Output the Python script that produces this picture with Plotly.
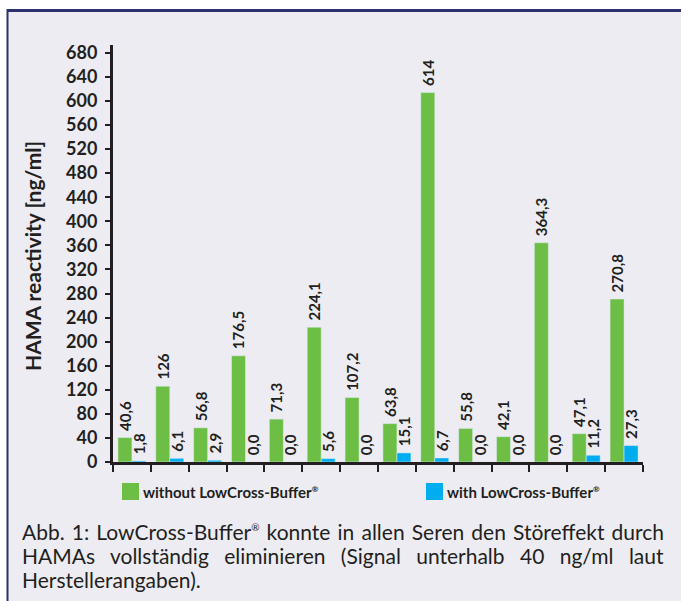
import plotly.graph_objects as go

# ---- data ----
groups = [f"S{i}" for i in range(1, 15)]
without_buffer = [40.6, 126, 56.8, 176.5, 71.3, 224.1, 107.2, 63.8, 614, 55.8, 42.1, 364.3, 47.1, 270.8]
with_buffer = [1.8, 6.1, 2.9, 0.0, 0.0, 5.6, 0.0, 15.1, 6.7, 0.0, 0.0, 0.0, 11.2, 27.3]
y_ticks = list(range(0, 681, 40))
REG = "<sup><span style='font-size:8px'>®</span></sup>"
series_names = ["without LowCross-Buffer" + REG, "with LowCross-Buffer" + REG]
y_title = "HAMA reactivity [ng/ml]"
caption_lines = [
    "Abb. 1: LowCross-Buffer<sup><span style='font-size:10px'>®</span></sup> konnte in allen Seren den Störeffekt durch",
    "HAMAs vollständig eliminieren (Signal unterhalb 40 ng/ml laut",
    "Herstellerangaben).",
]


def fmt(v):
    s = str(v) if isinstance(v, int) else f"{v:.1f}".replace(".", ",")
    return "\u00a0" + s


# ---- geometry (pixels) ----
W_PAGE, H_PAGE = 681, 601
L, R, T, B = 113, 38, 45, 139
PW = W_PAGE - L - R
PH = H_PAGE - T - B


def xp(px):
    return (px - L) / PW


def yp(py):
    return (H_PAGE - B - py) / PH


GREEN = "#6cbf44"
BLUE = "#00adef"
INK = "#231f20"
BG = "#ececf2"
NAVY = "#2d3170"
FONT = "Lato, 'Open Sans', sans-serif"

fig = go.Figure()
fig.add_trace(go.Bar(
    x=groups, y=without_buffer, name=series_names[0], marker_color=GREEN,
    text=[fmt(v) for v in without_buffer], textposition="outside", textangle=-90,
    textfont=dict(family=FONT, size=15, color=INK, weight="bold"),
    constraintext="none", cliponaxis=False, showlegend=False,
))
fig.add_trace(go.Bar(
    x=groups, y=with_buffer, name=series_names[1], marker_color=BLUE,
    text=[fmt(v) for v in with_buffer], textposition="outside", textangle=-90,
    textfont=dict(family=FONT, size=15, color=INK, weight="bold"),
    constraintext="none", cliponaxis=False, showlegend=False,
))

shapes = [
    dict(type="rect", xref="paper", yref="paper", x0=xp(7), x1=xp(W_PAGE + 5), y0=yp(10), y1=yp(H_PAGE + 5),
         fillcolor=BG, line_width=0, layer="below"),
    dict(type="line", xref="paper", yref="paper", x0=xp(7), x1=xp(W_PAGE + 5), y0=yp(10.5), y1=yp(10.5),
         line=dict(color=NAVY, width=3), layer="below"),
    dict(type="line", xref="paper", yref="paper", x0=xp(7.5), x1=xp(7.5), y0=yp(9), y1=yp(H_PAGE + 5),
         line=dict(color=NAVY, width=2), layer="below"),
    dict(type="rect", xref="paper", yref="paper", x0=xp(122), x1=xp(139), y0=yp(483), y1=yp(500),
         fillcolor=GREEN, line_width=0),
    dict(type="rect", xref="paper", yref="paper", x0=xp(426), x1=xp(443), y0=yp(483), y1=yp(500),
         fillcolor=BLUE, line_width=0),
]

annotations = [
    dict(text=y_title, xref="paper", yref="paper", x=xp(33), y=yp(256), textangle=-90,
         showarrow=False, xanchor="center", yanchor="middle",
         font=dict(family=FONT, size=21, color=INK, weight="bold")),
    dict(text=series_names[0], xref="paper", yref="paper", x=xp(141), y=yp(492),
         showarrow=False, xanchor="left", yanchor="middle",
         font=dict(family=FONT, size=15, color=INK, weight="bold")),
    dict(text=series_names[1], xref="paper", yref="paper", x=xp(445), y=yp(492),
         showarrow=False, xanchor="left", yanchor="middle",
         font=dict(family=FONT, size=15, color=INK, weight="bold")),
]

cap_font = dict(family=FONT, size=21, color=INK)
for line, ypix in zip(caption_lines, [531, 555, 579]):
    annotations.append(dict(text=line, xref="paper", yref="paper", x=xp(21), y=yp(ypix),
                            showarrow=False, xanchor="left", yanchor="middle", align="left",
                            font=cap_font, borderpad=0))

fig.update_layout(
    width=W_PAGE, height=H_PAGE,
    margin=dict(l=L, r=R, t=T, b=B),
    paper_bgcolor="white", plot_bgcolor="rgba(0,0,0,0)",
    barmode="group", bargap=0.26, bargroupgap=0,
    shapes=shapes, annotations=annotations,
    font=dict(family=FONT, color=INK),
)
fig.update_xaxes(
    type="category", showticklabels=False, tickson="boundaries",
    ticks="outside", ticklen=7, tickwidth=2, tickcolor=INK,
    showline=True, linecolor=INK, linewidth=3, showgrid=False, zeroline=False,
)
fig.update_yaxes(
    range=[0, 693], tickvals=y_ticks, ticks="outside", ticklen=5, tickwidth=2, tickcolor=INK,
    showline=True, linecolor=INK, linewidth=3, showgrid=False, zeroline=False,
    tickfont=dict(family=FONT, size=18, color=INK, weight="bold"), ticklabelstandoff=4,
)

# justify the first two caption lines (like the printed figure) by widening the word spacing
justify_js = """
var gd = document.getElementById('{plot_id}');
function justifyCaption() {
  var texts = gd.querySelectorAll('text.annotation-text');
  texts.forEach(function (t) {
    var s = t.textContent;
    if (s.indexOf('Abb.') === 0 || s.indexOf('HAMAs') === 0) {
      t.style.wordSpacing = '0px';
      var w = t.getBBox().width;
      var n = (s.match(/ /g) || []).length;
      var target = 642;
      if (n > 0 && w < target) { t.style.wordSpacing = ((target - w) / n) + 'px'; }
    }
  });
}
justifyCaption();
gd.on('plotly_afterplot', justifyCaption);
"""

fig.write_html("out.html", config={"displayModeBar": False}, post_script=justify_js)

# remove the browser's default page margin so the figure sits at the window's corner
with open("out.html", encoding="utf-8") as f:
    html = f.read()
html = html.replace("<body>", "<body style=\"margin:0;overflow:hidden;\">", 1)
with open("out.html", "w", encoding="utf-8") as f:
    f.write(html)
